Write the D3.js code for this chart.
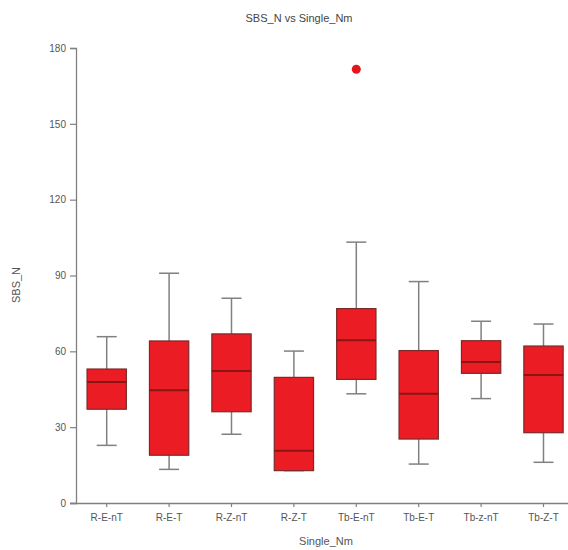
<!DOCTYPE html>
<html><head><meta charset="utf-8">
<script src="https://cdn.jsdelivr.net/npm/d3@7"></script>
<style>body{margin:0;background:#fff}svg{display:block}text{font-family:Arial,"Liberation Sans",sans-serif}</style>
</head><body><div id="chart"></div>
<script>
const categories = ["R-E-nT","R-E-T","R-Z-nT","R-Z-T","Tb-E-nT","Tb-E-T","Tb-z-nT","Tb-Z-T"];
const whiskerLow  = [22.8, 13.3, 27.2, 12.8, 43.2, 15.4, 41.3, 16.1];
const q1          = [37.1, 18.9, 36.1, 12.8, 48.9, 25.3, 51.3, 27.8];
const medians     = [47.9, 44.6, 52.2, 20.7, 64.4, 43.2, 55.8, 50.6];
const q3          = [53.0, 64.1, 66.9, 49.7, 76.9, 60.3, 64.2, 62.1];
const whiskerHigh = [65.8, 90.9, 81.0, 60.1, 103.2, 87.6, 71.9, 70.8];
const outliers    = [{cat:"Tb-E-nT", value:171.6}];
const yTicks = [0,30,60,90,120,150,180];

const W=568,H=550;
const svg=d3.select("#chart").append("svg").attr("width",W).attr("height",H);
const x=d3.scaleBand().domain(categories).range([75.5,574.7]).paddingInner(0.37).paddingOuter(0.185);
const y=d3.scaleLinear().domain([0,180]).range([503,48]);

const data=categories.map((c,i)=>({c,lo:whiskerLow[i],q1:q1[i],med:medians[i],q3:q3[i],hi:whiskerHigh[i]}));
const axisCol="#808080";

// axes
const ya=svg.append("g").attr("transform","translate(76,0)").call(d3.axisLeft(y).tickValues(yTicks).tickSize(6).tickPadding(4));
const xa=svg.append("g").attr("transform","translate(0,503)").call(d3.axisBottom(x).tickSize(4).tickPadding(7));
[ya,xa].forEach(g=>{
  g.select(".domain").attr("stroke",axisCol).attr("stroke-width",1.3);
  g.selectAll(".tick line").attr("stroke",axisCol).attr("stroke-width",1.2);
  g.selectAll(".tick text").attr("fill","#555").style("font-size","10px");
});
xa.select(".domain").attr("d","M70,0.5H568");

// boxes
const bw=x.bandwidth();
const cap=20;
const g=svg.append("g");
const box=g.selectAll("g.box").data(data).join("g").attr("class","box");
box.append("line").attr("x1",d=>x(d.c)+bw/2).attr("x2",d=>x(d.c)+bw/2).attr("y1",d=>y(d.hi)).attr("y2",d=>y(d.q3)).attr("stroke","#808080").attr("stroke-width",1.5);
box.append("line").attr("x1",d=>x(d.c)+bw/2).attr("x2",d=>x(d.c)+bw/2).attr("y1",d=>y(d.q1)).attr("y2",d=>y(d.lo)).attr("stroke","#808080").attr("stroke-width",1.5);
box.append("line").attr("x1",d=>x(d.c)+bw/2-cap/2).attr("x2",d=>x(d.c)+bw/2+cap/2).attr("y1",d=>y(d.hi)).attr("y2",d=>y(d.hi)).attr("stroke","#808080").attr("stroke-width",1.5);
box.append("line").attr("x1",d=>x(d.c)+bw/2-cap/2).attr("x2",d=>x(d.c)+bw/2+cap/2).attr("y1",d=>y(d.lo)).attr("y2",d=>y(d.lo)).attr("stroke","#808080").attr("stroke-width",1.5);
box.append("rect").attr("x",d=>x(d.c)).attr("width",bw).attr("y",d=>y(d.q3)).attr("height",d=>y(d.q1)-y(d.q3))
  .attr("fill","#ec1c24").attr("stroke","#7a2a2a").attr("stroke-width",1.2);
box.append("line").attr("x1",d=>x(d.c)).attr("x2",d=>x(d.c)+bw).attr("y1",d=>y(d.med)).attr("y2",d=>y(d.med)).attr("stroke","#8b1515").attr("stroke-width",2);

// outliers
g.selectAll("circle.out").data(outliers).join("circle").attr("class","out")
  .attr("cx",d=>x(d.cat)+bw/2).attr("cy",d=>y(d.value)).attr("r",4.5).attr("fill","#e8141c");

// titles
svg.append("text").attr("x",299).attr("y",22).attr("text-anchor","middle").attr("fill","#444").style("font-size","11px").text("SBS_N vs Single_Nm");
svg.append("text").attr("x",326).attr("y",545).attr("text-anchor","middle").attr("fill","#555").style("font-size","11px").text("Single_Nm");
svg.append("text").attr("transform","translate(20,285) rotate(-90)").attr("text-anchor","middle").attr("fill","#555").style("font-size","11px").text("SBS_N");
</script></body></html>
